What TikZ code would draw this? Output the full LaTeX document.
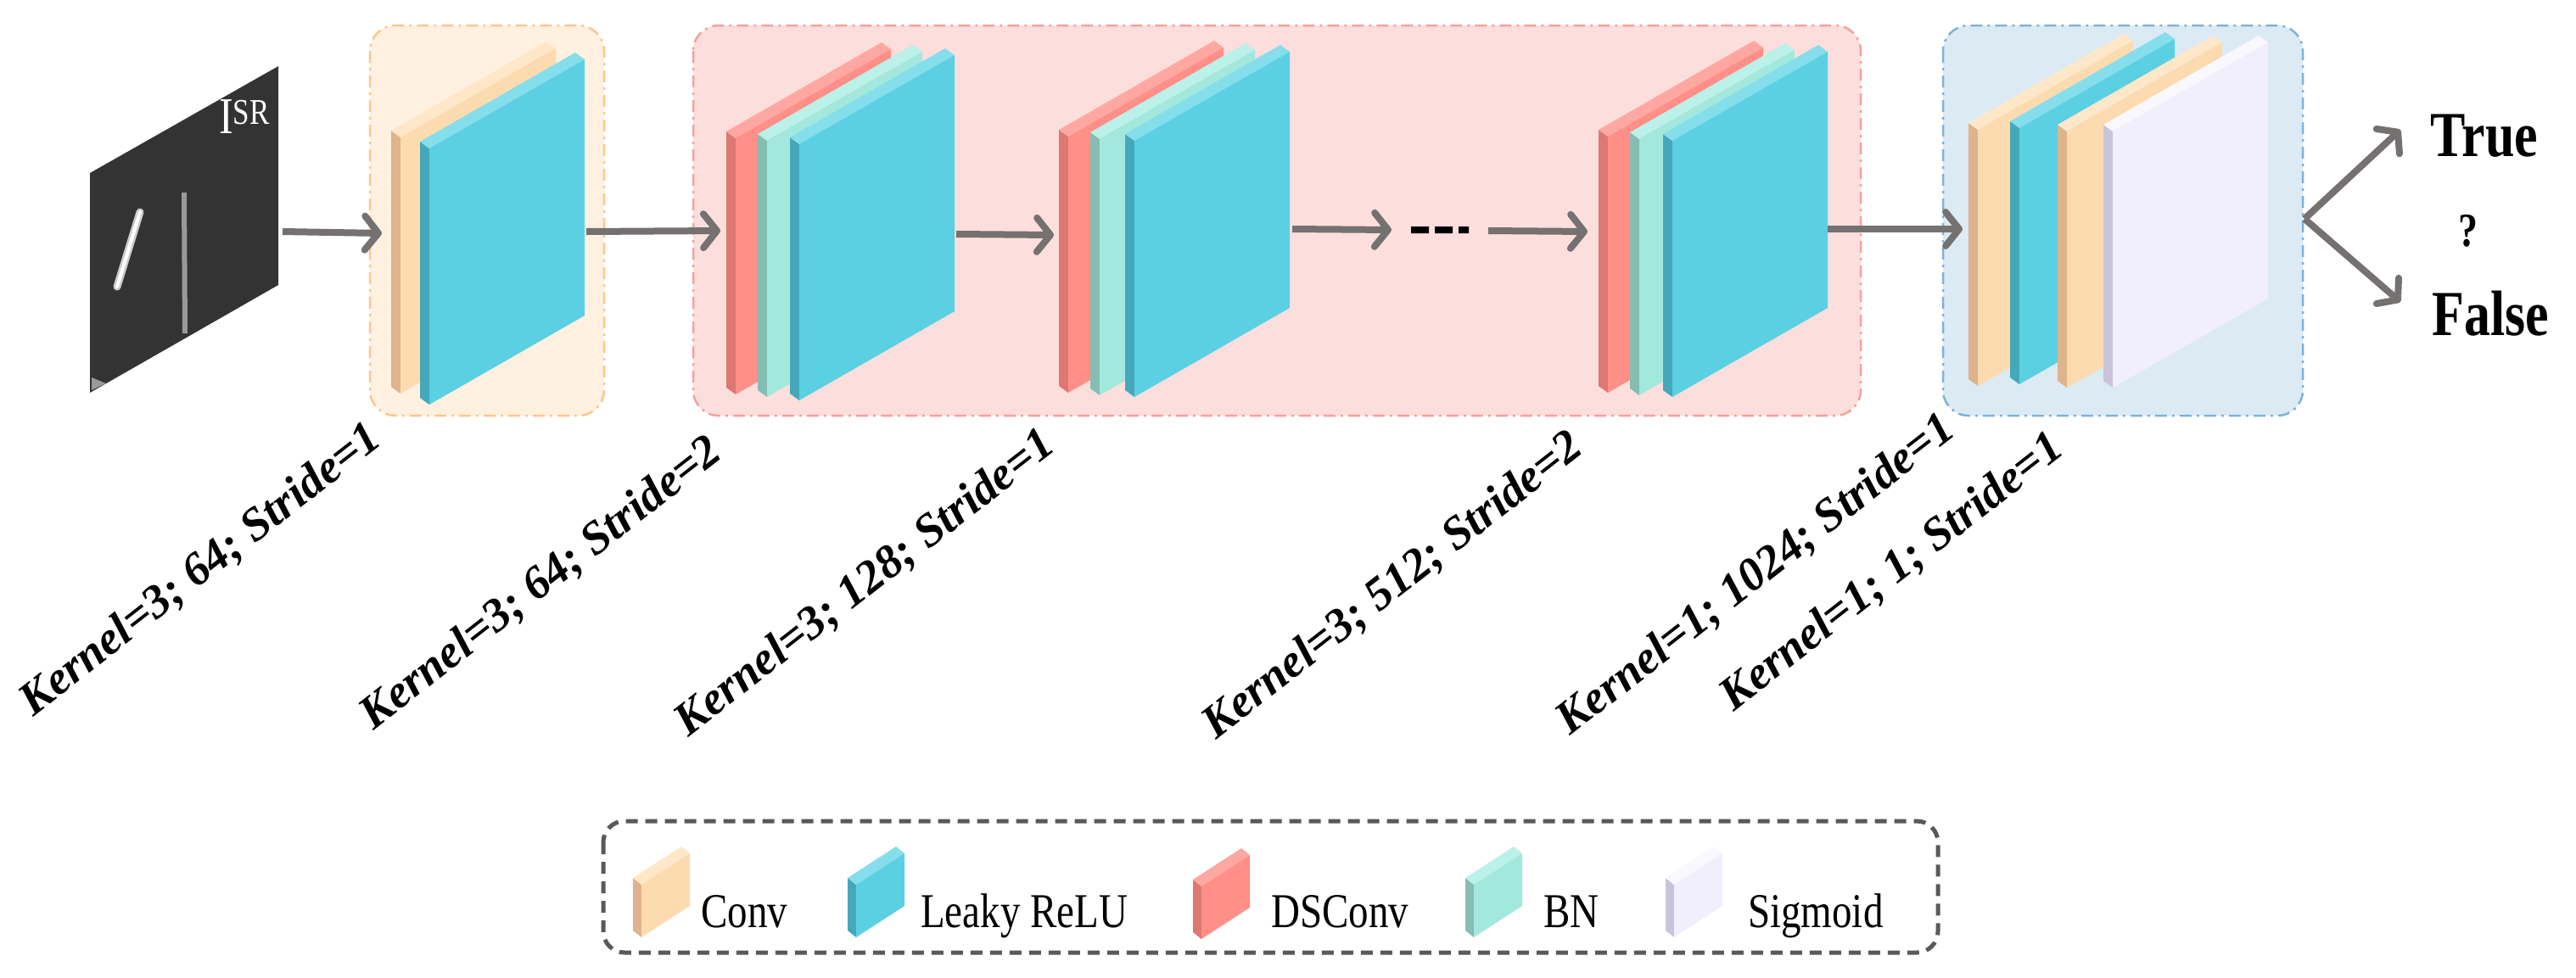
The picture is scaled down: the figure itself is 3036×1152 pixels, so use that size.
\documentclass[tikz,border=0pt]{standalone}
\usepackage{fontspec}
\setmainfont{Liberation Serif}
\usetikzlibrary{arrows.meta}
\definecolor{cF}{HTML}{FDDBB0}\definecolor{cS}{HTML}{DFB38B}\definecolor{cT}{HTML}{FFE7C8}
\definecolor{bF}{HTML}{5BD0E3}\definecolor{bS}{HTML}{45A8BA}\definecolor{bT}{HTML}{84DEEC}
\definecolor{rF}{HTML}{FF8F88}\definecolor{rS}{HTML}{DD7872}\definecolor{rT}{HTML}{FFA7A1}
\definecolor{tF}{HTML}{A3E8DD}\definecolor{tS}{HTML}{86BDB3}\definecolor{tT}{HTML}{BAF1E8}
\definecolor{sF}{HTML}{F2EFFD}\definecolor{sS}{HTML}{C9C4DA}\definecolor{sT}{HTML}{F9F8FF}
\definecolor{arr}{HTML}{757171}
\newcommand{\plate}[5]{%
  \fill[#4] (#1,#2) -- ++(-11,-8) -- ++(0,-302) -- ++(11,8) -- cycle;
  \fill[#5] (#1,#2) ++(0,-302) -- ++(-11,-8) -- ++(183,-105) -- ++(11,8) -- cycle;
  \fill[#3] (#1,#2) -- ++(0,-302) -- ++(183,-105) -- ++(0,302) -- cycle;}
\newcommand{\icon}[5]{%
  \fill[#4] (#1,#2) -- ++(-10,-8) -- ++(0,-62) -- ++(10,8) -- cycle;
  \fill[#5] (#1,#2) ++(0,-62) -- ++(-10,-8) -- ++(57,-37) -- ++(10,8) -- cycle;
  \fill[#3] (#1,#2) -- ++(0,-62) -- ++(57,-37) -- ++(0,62) -- cycle;}
\begin{document}
\begin{tikzpicture}[x=1pt,y=-1pt,
  group/.style={rounded corners=30pt,line width=2.5pt,dash pattern=on 14pt off 6pt on 3pt off 6pt},
  flow/.style={draw=arr,line width=8pt,-{Straight Barb[length=16pt,width=40pt,line width=8pt,round]}},
  lbl/.style={font=\fontsize{55}{60}\selectfont\bfseries\itshape,rotate=38,inner sep=0pt},
  tall/.style={transform shape,yscale=1.22},
  leg/.style={font=\fontsize{47}{52}\selectfont,anchor=base west,inner sep=0pt,tall}]
\useasboundingbox (0,0) rectangle (3036,1152);
% groups
\draw[group,fill=orange!12,draw=orange!45] (436,30) rectangle (712,490);
\draw[group,fill={rgb,255:red,252;green,222;blue,220},draw={rgb,255:red,245;green,161;blue,156}] (817,30) rectangle (2193,490);
\draw[group,fill={rgb,255:red,220;green,234;blue,243},draw={rgb,255:red,124;green,179;blue,217}] (2290,30) rectangle (2714,490);
% input image
\fill[black!80] (106,463) -- (106,204) -- (328,78) -- (328,336) -- cycle;
\draw[white!80!black,line width=9pt,line cap=round] (138,338) -- (165,250);
\draw[white,line width=4pt,line cap=round] (138,338) -- (165,250);
\draw[white!60!black,line width=6pt] (217,227) -- (218,393);
\fill[white!60!black] (108,460) -- (108,445) -- (125,452) -- cycle;
\node[white,font=\fontsize{50}{56}\selectfont,inner sep=0pt,tall] (isr) at (288,138) {I\textsuperscript{SR}};
% orange block
\plate{472}{464}{cF}{cS}{cT}
\plate{506}{477}{bF}{bS}{bT}
% red blocks
\plate{867}{465}{rF}{rS}{rT}\plate{904}{468}{tF}{tS}{tT}\plate{942}{472}{bF}{bS}{bT}
\plate{1259}{463}{rF}{rS}{rT}\plate{1296}{466}{tF}{tS}{tT}\plate{1337}{468}{bF}{bS}{bT}
\plate{1895}{463}{rF}{rS}{rT}\plate{1932}{466}{tF}{tS}{tT}\plate{1971}{468}{bF}{bS}{bT}
% blue block
\plate{2331}{455}{cF}{cS}{cT}\plate{2380}{453}{bF}{bS}{bT}
\plate{2436}{457}{cF}{cS}{cT}\plate{2490}{457}{sF}{sS}{sT}
% arrows
\coordinate (a1) at (333,273); \coordinate (a1e) at (450,275);
\coordinate (a2) at (691,273); \coordinate (a2e) at (849,272);
\coordinate (a3) at (1127,276); \coordinate (a3e) at (1242,277);
\coordinate (a4) at (1523,270); \coordinate (a4e) at (1640,271);
\coordinate (a5) at (1754,272); \coordinate (a5e) at (1871,273);
\coordinate (a6) at (2154,270); \coordinate (a6e) at (2313,270);
\coordinate (sp) at (2716,258);
\coordinate (tt) at (2829,153); \coordinate (ff) at (2829,356);
\foreach \s/\e in {a1/a1e,a2/a2e,a3/a3e,a4/a4e,a5/a5e,a6/a6e,sp/tt,sp/ff}
  \draw[flow] (\s) -- (\e);
\fill[black] (1663,267) rectangle (1684,275) (1691,267) rectangle (1712,275) (1719,267) rectangle (1731,275);
\node[font=\fontsize{62}{66}\selectfont\bfseries,tall] (true) at (2928,160) {True};
\node[font=\fontsize{46}{50}\selectfont\bfseries,tall] (q) at (2909,272) {?};
\node[font=\fontsize{62}{66}\selectfont\bfseries,tall] (false) at (2935,370) {False};
% labels
\node[lbl] (l1) at (237,672) {Kernel=3; 64; Stride=1};
\node[lbl] (l2) at (638,688) {Kernel=3; 64; Stride=2};
\node[lbl] (l3) at (1020,688) {Kernel=3; 128; Stride=1};
\node[lbl] (l4) at (1642,691) {Kernel=3; 512; Stride=2};
\node[lbl] (l5) at (2070,678) {Kernel=1; 1024; Stride=1};
\node[lbl] (l6) at (2230,675) {Kernel=1; 1; Stride=1};
% legend
\draw[draw=black!65,line width=5pt,dash pattern=on 14pt off 9pt,rounded corners=25pt] (711,968) rectangle (2284,1123);
\icon{756}{1105}{cF}{cS}{cT}\node[leg] (lc) at (826,1093) {Conv};
\icon{1009}{1105}{bF}{bS}{bT}\node[leg] (ll) at (1085,1093) {Leaky ReLU};
\icon{1416}{1107}{rF}{rS}{rT}\node[leg] (ld) at (1498,1093) {DSConv};
\icon{1737}{1105}{tF}{tS}{tT}\node[leg] (lb) at (1819,1093) {BN};
\icon{1973}{1105}{sF}{sS}{sT}\node[leg] (ls) at (2060,1093) {Sigmoid};
\end{tikzpicture}
\end{document}
